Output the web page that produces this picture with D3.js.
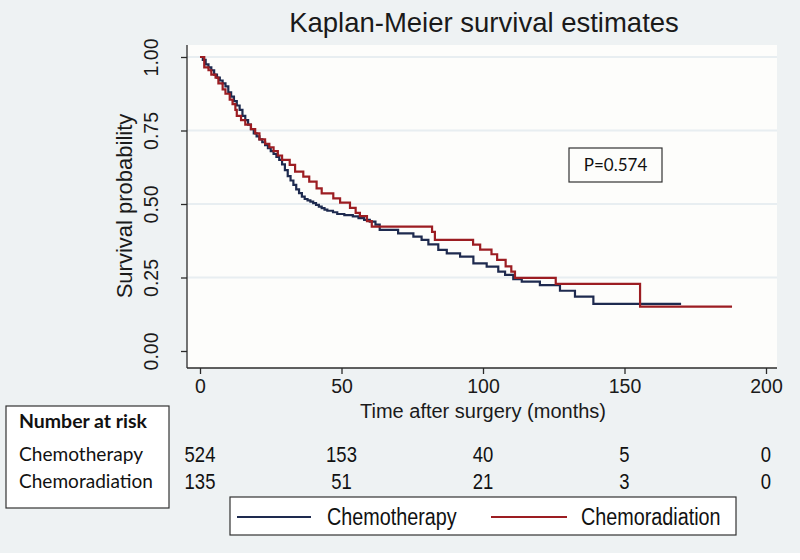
<!DOCTYPE html>
<html><head><meta charset="utf-8">
<script src="https://cdn.jsdelivr.net/npm/d3@7"></script>
<style>body{margin:0;background:#fff}svg{display:block}</style>
</head><body>
<svg id="c" width="800" height="560"></svg>
<script>
// ---- data ----
const chemoTimes = [0,1,2,3,4,5,6,7,8,9,10,11,12,13,14,15,16,17,18,19,20,21,22,23,24,25,26,27,28,29,30,31,32,33,34,35,36,37,38,39,40,41,42,43,44,45,47,48.5,51,54,56,58,60,62,63.5,70,75.4,78.3,80.7,84.2,87.2,91.9,96.6,101.3,105.4,107.8,110.7,113.7,120.1,127.2,132.5,139,170];
const chemoSurv  = [1,0.99,0.975,0.965,0.955,0.94,0.93,0.92,0.91,0.9,0.88,0.865,0.85,0.835,0.82,0.8,0.785,0.77,0.755,0.74,0.73,0.72,0.71,0.7,0.69,0.68,0.67,0.66,0.65,0.635,0.615,0.595,0.58,0.565,0.55,0.537,0.525,0.517,0.512,0.508,0.503,0.497,0.491,0.486,0.481,0.477,0.472,0.466,0.462,0.458,0.452,0.446,0.44,0.43,0.412,0.4,0.389,0.378,0.363,0.344,0.332,0.321,0.298,0.287,0.27,0.259,0.244,0.236,0.224,0.205,0.185,0.16,0.16];
const radTimes = [0,1.5,3,4,5.5,6.5,8,9,10.5,11.5,12.5,13,14.5,16,18,19.5,21,23,24.5,26,27.5,29,31.7,33.6,36.5,38.6,41.2,43,47.1,49.5,53,55,56.5,59,60.7,82,83,96.5,99,103,105,108,110,111.3,125.7,155.5,188];
const radSurv  = [1,0.965,0.955,0.94,0.93,0.91,0.89,0.875,0.855,0.84,0.82,0.8,0.785,0.77,0.755,0.74,0.72,0.705,0.693,0.68,0.665,0.65,0.633,0.61,0.593,0.576,0.553,0.536,0.519,0.505,0.487,0.47,0.459,0.442,0.423,0.405,0.378,0.362,0.345,0.329,0.31,0.288,0.27,0.249,0.228,0.151,0.151];
const xTicks = [0,50,100,150,200];
const yTicks = [0,0.25,0.5,0.75,1];
const groups = ["Chemotherapy","Chemoradiation"];
const riskTimes = [0,50,100,150,200];
const riskChemo = [524,153,40,5,0];
const riskRad = [135,51,21,3,0];
const colors = ["#1e2a4f","#9c1d22"];

const svg = d3.select("#c");
const x = d3.scaleLinear().domain([0,200]).range([200,766]);
const y = d3.scaleLinear().domain([0,1]).range([351,57]);
const SANS = "Liberation Sans, Arial, sans-serif";
const CAL = "Lato, Open Sans, sans-serif";

svg.append("rect").attr("x",0).attr("y",0).attr("width",800).attr("height",553).attr("fill","#eef2f3");
svg.append("rect").attr("x",187).attr("y",45).attr("width",590).attr("height",323).attr("fill","#fdfdfb");

// gridlines
svg.append("g").selectAll("line").data(yTicks.filter(d=>d>0)).join("line")
  .attr("x1",187).attr("x2",777).attr("y1",d=>y(d)).attr("y2",d=>y(d))
  .attr("stroke","#e8eef1").attr("stroke-width",2);

// title
svg.append("text").attr("x",484).attr("y",32).attr("text-anchor","middle")
  .attr("font-family",SANS).attr("font-size",27.5).attr("fill","#1a1a1a")
  .text("Kaplan-Meier survival estimates");

// axes
const yAxis = d3.axisLeft(y).tickValues(yTicks).tickFormat(d3.format(".2f")).tickSize(6);
const gy = svg.append("g").attr("transform","translate(187,0)").call(yAxis);
gy.select(".domain").attr("d","M0,45V368");
gy.selectAll(".tick text").attr("x",null).attr("dy",null)
  .attr("transform","translate(-29,0) rotate(-90)").attr("text-anchor","middle").attr("y",0);
const xAxis = d3.axisBottom(x).tickValues(xTicks).tickSize(6).tickPadding(5);
const gx = svg.append("g").attr("transform","translate(0,368)").call(xAxis);
gx.select(".domain").attr("d","M187,0H777");
[gx,gy].forEach(g=>{
  g.selectAll("path,line").attr("stroke","#2b2b2b").attr("stroke-width",1.3);
  g.selectAll("text").attr("font-family",SANS).attr("font-size",19.5).attr("fill","#1a1a1a");
});

svg.append("text").attr("x",483).attr("y",418).attr("text-anchor","middle")
  .attr("font-family",SANS).attr("font-size",20).attr("fill","#1a1a1a")
  .text("Time after surgery (months)");
svg.append("text").attr("transform","translate(132,206) rotate(-90)").attr("text-anchor","middle")
  .attr("font-family",SANS).attr("font-size",22).attr("fill","#1a1a1a")
  .text("Survival probability");

// curves
const line = d3.line().x(d=>x(d[0])).y(d=>y(d[1])).curve(d3.curveStepAfter);
const series = [d3.zip(chemoTimes,chemoSurv), d3.zip(radTimes,radSurv)];
series.forEach((s,i)=>{
  svg.append("path").datum(s).attr("d",line).attr("fill","none")
    .attr("stroke",colors[i]).attr("stroke-width",2.2);
});

// P box
svg.append("rect").attr("x",569).attr("y",148).attr("width",93).attr("height",34)
  .attr("fill","#fdfdfb").attr("stroke","#333").attr("stroke-width",1.2);
svg.append("text").attr("x",615.5).attr("y",171).attr("text-anchor","middle")
  .attr("font-family",CAL).attr("font-size",17).attr("fill","#111")
  .text("P=0.574");

// number at risk box
svg.append("rect").attr("x",6).attr("y",406).attr("width",163).attr("height",102)
  .attr("fill","#fff").attr("stroke","#333").attr("stroke-width",1.2);
svg.append("text").attr("x",19).attr("y",428).attr("font-family",CAL)
  .attr("font-weight","bold").attr("font-size",18.5).attr("fill","#111").text("Number at risk")
  .attr("textLength",128).attr("lengthAdjust","spacingAndGlyphs");
groups.forEach((g,i)=>{
  svg.append("text").attr("x",19).attr("y",461+i*27).attr("font-family",CAL)
    .attr("font-size",19).attr("fill","#111").text(g)
    .attr("textLength",i===0?124:134).attr("lengthAdjust","spacingAndGlyphs");
});
[riskChemo,riskRad].forEach((arr,i)=>{
  svg.append("g").selectAll("text").data(arr).join("text")
    .attr("transform",(d,j)=>`translate(${x(riskTimes[j])},${462+i*27}) scale(0.84,1)`).attr("text-anchor","middle")
    .attr("font-family",SANS)
    .attr("font-size",22).attr("fill","#111").text(d=>d);
});

// legend
svg.append("rect").attr("x",230).attr("y",497).attr("width",506).attr("height",38)
  .attr("fill","#fff").attr("stroke","#333").attr("stroke-width",1.2);
const legX = [[237,311,327],[491,567,581]];
groups.forEach((g,i)=>{
  svg.append("line").attr("x1",legX[i][0]).attr("x2",legX[i][1]).attr("y1",517).attr("y2",517)
    .attr("stroke",colors[i]).attr("stroke-width",2);
  svg.append("text").attr("transform",`translate(${legX[i][2]},525) scale(0.86,1)`)
    .attr("font-family",SANS)
    .attr("font-size",23).attr("fill","#111").text(g);
});
</script>
</body></html>
